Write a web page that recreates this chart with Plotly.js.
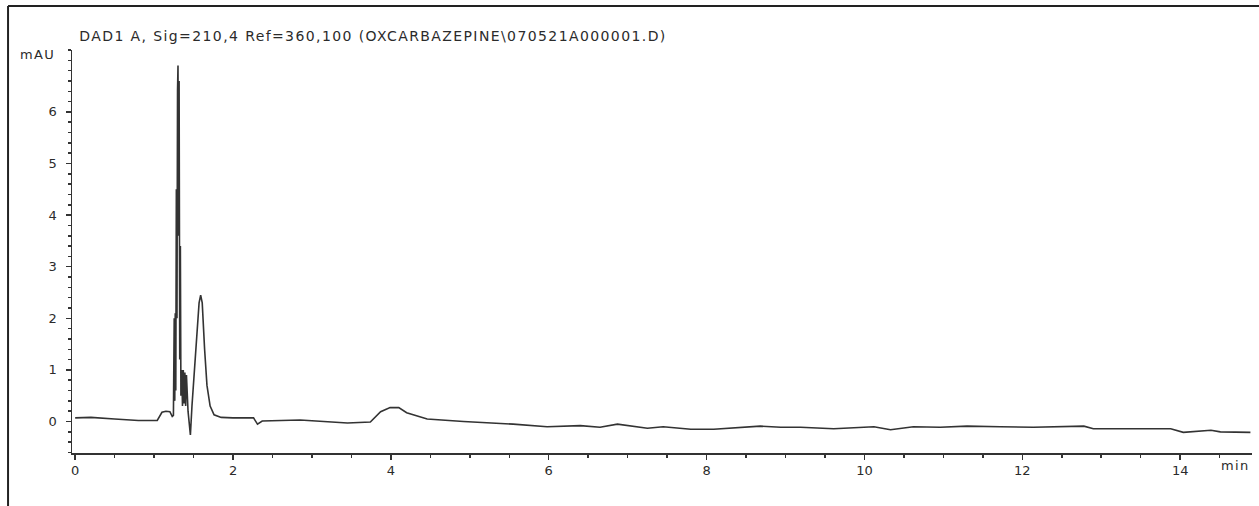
<!DOCTYPE html>
<html>
<head>
<meta charset="utf-8">
<script src="https://cdn.plot.ly/plotly-3.0.1.min.js"></script>
<style>
html,body{margin:0;padding:0;background:#fff;}
#chart{width:1259px;height:506px;}
#chart .annotation-text{letter-spacing:1.4px;}
</style>
</head>
<body>
<div id="chart"></div>
<script>
// Retention time (min)
const timeMin = [0, 0.2, 0.5, 0.8, 1.04, 1.1, 1.15, 1.2, 1.23, 1.245, 1.255, 1.262, 1.268, 1.275, 1.282, 1.29, 1.297, 1.303, 1.31, 1.317, 1.325, 1.333, 1.34, 1.35, 1.36, 1.37, 1.38, 1.39, 1.40, 1.41, 1.43, 1.46, 1.48, 1.51, 1.54, 1.57, 1.59, 1.61, 1.64, 1.67, 1.71, 1.76, 1.85, 2.0, 2.26, 2.31, 2.37, 2.85, 3.45, 3.74, 3.87, 3.99, 4.1, 4.2, 4.46, 4.92, 5.55, 5.98, 6.4, 6.65, 6.87, 7.25, 7.45, 7.8, 8.09, 8.43, 8.68, 8.94, 9.19, 9.61, 10.12, 10.33, 10.62, 10.96, 11.3, 11.72, 12.14, 12.78, 12.9, 13.41, 13.88, 14.04, 14.39, 14.51, 14.89];
// Absorbance (mAU)
const signalMAU = [0.07, 0.08, 0.05, 0.02, 0.02, 0.18, 0.2, 0.19, 0.10, 0.12, 2.0, 0.4, 2.1, 0.6, 4.5, 2.0, 6.4, 6.9, 3.6, 6.6, 1.2, 3.4, 0.5, 1.0, 0.3, 1.0, 0.35, 0.95, 0.3, 0.9, 0.2, -0.26, 0.3, 1.0, 1.6, 2.3, 2.45, 2.3, 1.4, 0.7, 0.3, 0.13, 0.08, 0.07, 0.07, -0.05, 0.01, 0.03, -0.03, -0.01, 0.19, 0.27, 0.27, 0.17, 0.05, 0.0, -0.05, -0.1, -0.08, -0.11, -0.05, -0.13, -0.1, -0.15, -0.15, -0.11, -0.09, -0.11, -0.11, -0.14, -0.1, -0.16, -0.1, -0.11, -0.09, -0.1, -0.11, -0.09, -0.14, -0.14, -0.14, -0.21, -0.17, -0.2, -0.21];
const yTickVals = [0, 1, 2, 3, 4, 5, 6];
const xTickVals = [0, 2, 4, 6, 8, 10, 12, 14];
const chartTitle = 'DAD1 A, Sig=210,4 Ref=360,100 (OXCARBAZEPINE\\070521A000001.D)';

const textColor = '#2b2b2b';
const tickFont = {family: 'DejaVu Sans, sans-serif', size: 13, color: textColor};

const trace = {
  x: timeMin, y: signalMAU, type: 'scatter', mode: 'lines',
  line: {color: '#333333', width: 1.6}, hoverinfo: 'skip'
};

const layout = {
  width: 1259, height: 506,
  margin: {l: 72, r: 7, t: 50, b: 53},
  paper_bgcolor: '#fff', plot_bgcolor: '#fff',
  showlegend: false,
  font: tickFont,
  xaxis: {
    range: [-0.04, 14.91], showgrid: false, zeroline: false,
    showline: true, linecolor: '#333', linewidth: 1.5,
    tickvals: xTickVals, ticktext: xTickVals.map(String),
    ticks: 'outside', ticklen: 5, tickwidth: 1.5, tickcolor: '#333',
    minor: {dtick: 0.5, tick0: 0, ticks: 'outside', ticklen: 3, tickwidth: 1.5, tickcolor: '#333'},
    tickfont: tickFont
  },
  yaxis: {
    range: [-0.61, 7.2], showgrid: false, zeroline: false,
    showline: true, linecolor: '#333', linewidth: 1.5,
    tickvals: yTickVals, ticktext: yTickVals.map(String),
    ticks: 'outside', ticklen: 5, tickwidth: 1.5, tickcolor: '#333',
    ticklabelstandoff: 6,
    minor: {dtick: 0.2, tick0: 0, ticks: 'outside', ticklen: 3, tickwidth: 1.5, tickcolor: '#333'},
    tickfont: tickFont
  },
  annotations: [
    {text: chartTitle, xref: 'paper', yref: 'paper', x: 0.0408, y: 1.035, xanchor: 'left', yanchor: 'middle', showarrow: false,
     font: {family: 'DejaVu Sans, sans-serif', size: 14, color: textColor}},
    {text: 'mAU', xref: 'paper', yref: 'paper', x: -0.014, y: 0.99, xanchor: 'right', yanchor: 'middle', showarrow: false,
     font: {family: 'DejaVu Sans, sans-serif', size: 13, color: textColor}},
    {text: 'min', xref: 'paper', yref: 'paper', x: 0.998, y: -0.032, xanchor: 'right', yanchor: 'middle', showarrow: false,
     font: {family: 'DejaVu Sans, sans-serif', size: 13, color: textColor}}
  ],
  shapes: [
    {type: 'line', xref: 'paper', yref: 'paper', x0: -0.0542, x1: 1.01, y0: 1.109, y1: 1.109, line: {color: '#222', width: 2}},
    {type: 'line', xref: 'paper', yref: 'paper', x0: -0.0542, x1: -0.0542, y0: 1.109, y1: -0.14, line: {color: '#222', width: 2}}
  ]
};

Plotly.newPlot('chart', [trace], layout, {staticPlot: true, displayModeBar: false});
</script>
</body>
</html>
